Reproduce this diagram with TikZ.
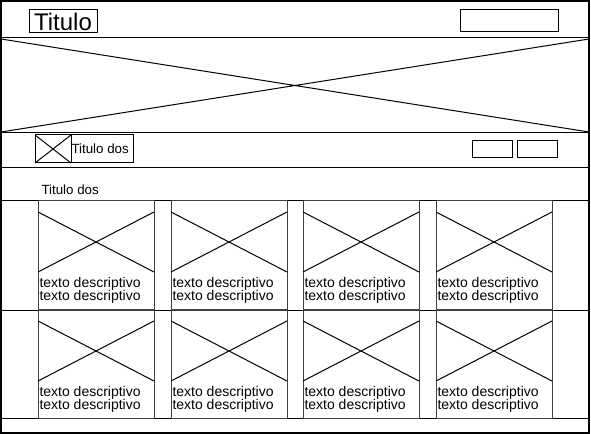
\documentclass[tikz,border=0pt]{standalone}
\usepackage{fontspec}
\setmainfont{Liberation Sans}
\tikzset{every picture/.style={line width=0.75pt}}
\tikzset{
  celda/.style={draw=black!75},
  txtdesc/.style={font=\fontsize{10.5}{10.5}\selectfont, inner sep=0pt, anchor=west},
  txtsub/.style={font=\fontsize{10}{10}\selectfont, inner sep=0pt, anchor=west},
}
\begin{document}
\begin{tikzpicture}[x=0.75pt,y=0.75pt,yscale=-1,xscale=1]
\useasboundingbox (0,0) rectangle (591,434);

%Shape: Frame
\draw [line width=1pt] (1,1) rectangle (589,433);
\draw [line width=2pt] (0,1) -- (590,1);
%Straight Lines: bands
\foreach \y in {38,133,168,201,310,418} \draw (1,\y) -- (589,\y);

%Shape: Banner
\draw (1,39) -- (589,132) (1,132) -- (589,39);

%Shape: Rectangle header
\draw (29,10) rectangle (97,33);
\draw (460,10) rectangle (558,32);
% Text Node
\draw (63,22) node [font=\fontsize{18}{18}\selectfont, inner sep=0pt] (titulo) {Titulo};

%Shape: Icon
\draw (35,135) rectangle (71,163);
\draw (35,135) -- (71,163) (35,163) -- (71,135);
\draw (71,135) rectangle (133,163);
% Text Node
\draw (71,149) node [txtsub] (subtitulo) {Titulo dos};

%Shape: Buttons
\draw (472,141) rectangle (512,158);
\draw (517,141) rectangle (557,158);

% Text Node
\draw (41,190) node [txtsub] (seccion) {Titulo dos};

%Shape: Cells
\foreach \cx in {38,171,303,436} {
  \foreach \cy in {201,310} {
    \draw [celda] (\cx,\cy) rectangle ++(116,108);
    \draw (\cx,\cy+11) -- ++(116,60) (\cx,\cy+71) -- ++(116,-60);
    \node [txtdesc] (da\cx\cy) at (\cx+1,\cy+83) {texto descriptivo};
    \node [txtdesc] (db\cx\cy) at (\cx+1,\cy+96) {texto descriptivo};
  }
}

\end{tikzpicture}
\end{document}
